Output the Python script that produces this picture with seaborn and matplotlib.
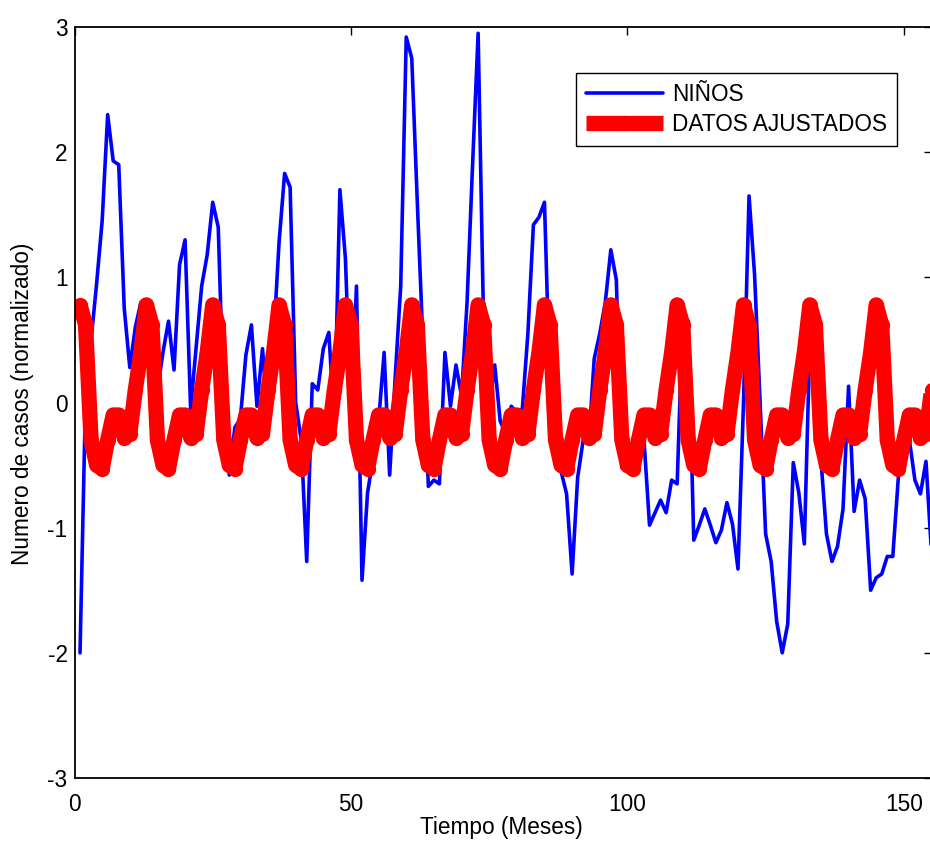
import pandas as pd
import seaborn as sns
import matplotlib.pyplot as plt

# Meses 1..155 (eje x)
meses = list(range(1, 156))

ninos = [
    -2.00, 0.05, 0.50, 0.95, 1.45, 2.30, 1.93, 1.90, 0.75, 0.28, 0.60, 0.80,
    0.70, -0.12, 0.10, 0.40, 0.65, 0.26, 1.10, 1.30, -0.05, 0.44, 0.93, 1.18,
    1.60, 1.40, -0.05, -0.58, -0.20, -0.13, 0.38, 0.62, -0.03, 0.43, -0.18, 0.50,
    1.28, 1.83, 1.72, 0.00, -0.30, -1.27, 0.15, 0.10, 0.43, 0.56, -0.18, 1.70,
    1.15, -0.10, 0.93, -1.42, -0.72, -0.45, -0.15, 0.40, -0.58, 0.20, 0.93, 2.92,
    2.75, 1.60, 0.50, -0.67, -0.62, -0.65, 0.40, -0.03, 0.30, 0.05, 0.80, 1.90,
    2.95, 0.60, -0.05, 0.30, -0.15, -0.25, -0.03, -0.08, -0.05, 0.55, 1.42, 1.48,
    1.60, 0.10, -0.47, -0.55, -0.73, -1.37, -0.60, -0.30, -0.32, 0.35, 0.55, 0.80,
    1.22, 0.98, -0.52, -0.45, -0.58, -0.12, -0.30, -0.98, -0.88, -0.78, -0.88, -0.62,
    -0.65, 0.70, 0.65, -1.10, -0.98, -0.85, -0.98, -1.12, -1.02, -0.80, -0.97, -1.33,
    0.00, 1.65, 1.02, 0.00, -1.05, -1.27, -1.75, -2.00, -1.77, -0.48, -0.72, -1.13,
    0.50, 0.00, -0.45, -1.05, -1.27, -1.15, -0.85, 0.13, -0.87, -0.62, -0.77, -1.50,
    -1.40, -1.37, -1.23, -1.23, -0.60, -0.25, -0.30, -0.62, -0.73, -0.47, -1.20,
]

# Datos ajustados (modelo estacional)
ajustados = [
    0.78, 0.62, -0.30, -0.50, -0.53, -0.30, -0.10, -0.10, -0.28, -0.25, 0.10, 0.40,
    0.78, 0.62, -0.30, -0.50, -0.53, -0.30, -0.10, -0.10, -0.28, -0.25, 0.10, 0.40,
    0.78, 0.62, -0.30, -0.50, -0.53, -0.30, -0.10, -0.10, -0.28, -0.25, 0.10, 0.40,
    0.78, 0.62, -0.30, -0.50, -0.53, -0.30, -0.10, -0.10, -0.28, -0.25, 0.10, 0.40,
    0.78, 0.62, -0.30, -0.50, -0.53, -0.30, -0.10, -0.10, -0.28, -0.25, 0.10, 0.40,
    0.78, 0.62, -0.30, -0.50, -0.53, -0.30, -0.10, -0.10, -0.28, -0.25, 0.10, 0.40,
    0.78, 0.62, -0.30, -0.50, -0.53, -0.30, -0.10, -0.10, -0.28, -0.25, 0.10, 0.40,
    0.78, 0.62, -0.30, -0.50, -0.53, -0.30, -0.10, -0.10, -0.28, -0.25, 0.10, 0.40,
    0.78, 0.62, -0.30, -0.50, -0.53, -0.30, -0.10, -0.10, -0.28, -0.25, 0.10, 0.40,
    0.78, 0.62, -0.30, -0.50, -0.53, -0.30, -0.10, -0.10, -0.28, -0.25, 0.10, 0.40,
    0.78, 0.62, -0.30, -0.50, -0.53, -0.30, -0.10, -0.10, -0.28, -0.25, 0.10, 0.40,
    0.78, 0.62, -0.30, -0.50, -0.53, -0.30, -0.10, -0.10, -0.28, -0.25, 0.10, 0.40,
    0.78, 0.62, -0.30, -0.50, -0.53, -0.30, -0.10, -0.10, -0.28, -0.25, 0.10,
]

x_ticks = [0, 50, 100, 150]
y_ticks = [-3, -2, -1, 0, 1, 2, 3]

df = pd.DataFrame({'mes': meses, 'ninos': ninos, 'ajustados': ajustados})

sns.set_theme(style='white')
plt.rcParams['font.family'] = ['Liberation Sans', 'DejaVu Sans']
plt.rcParams['axes.unicode_minus'] = False
plt.rcParams['text.color'] = 'black'
plt.rcParams['axes.labelcolor'] = 'black'

fig = plt.figure(figsize=(9.3, 8.41), dpi=100)
# axes right edge sits just past the figure edge (cropped like the original)
ax = fig.add_axes([74.5 / 930, 63 / 841, 857 / 930, 751 / 841])

sns.lineplot(data=df, x='mes', y='ninos', ax=ax, color='#0000ff', lw=2.6,
             label='NIÑOS')
sns.lineplot(data=df, x='mes', y='ajustados', ax=ax, color='#ff0000', lw=11,
             marker='o', markersize=11, markeredgewidth=0,
             solid_joinstyle='round', solid_capstyle='butt',
             label='DATOS AJUSTADOS')

fs = 16.3
ax.set_xlim(0, 155)
ax.set_ylim(-3, 3)
ax.set_xticks(x_ticks)
ax.set_yticks(y_ticks)
ax.tick_params(direction='in', length=6, width=1, top=True, right=True,
               labelsize=fs, colors='black')
ax.tick_params(axis='x', pad=11)
ax.tick_params(axis='y', pad=5)
for s in ax.spines.values():
    s.set_color('black')
    s.set_linewidth(1.3)

ax.set_xlabel('Tiempo (Meses)', fontsize=fs)
ax.set_ylabel('Numero de casos (normalizado)', fontsize=fs)
ax.xaxis.set_label_coords(0.498, -0.051)
ax.yaxis.set_label_coords(-0.047, 0.498)

leg = ax.legend(loc='upper right', bbox_to_anchor=(897 / 930, 1 - 73 / 841),
                bbox_transform=fig.transFigure, borderaxespad=0, frameon=True,
                fancybox=False, edgecolor='black', framealpha=1, fontsize=fs,
                handlelength=3.4, handletextpad=0.4, labelspacing=0.3,
                borderpad=0.45)
leg.get_frame().set_linewidth(1.0)

plt.savefig('out.png', dpi=100)
